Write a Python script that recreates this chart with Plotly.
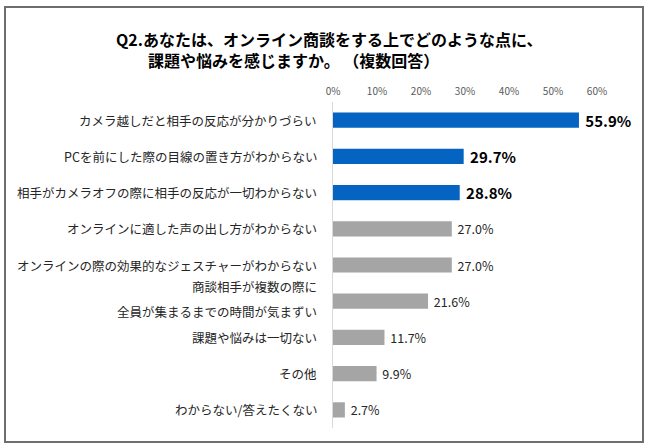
import plotly.graph_objects as go

categories = [
    "カメラ越しだと相手の反応が分かりづらい",
    "PCを前にした際の目線の置き方がわからない",
    "相手がカメラオフの際に相手の反応が一切わからない",
    "オンラインに適した声の出し方がわからない",
    "オンラインの際の効果的なジェスチャーがわからない",
    "商談相手が複数の際に<br>全員が集まるまでの時間が気まずい",
    "課題や悩みは一切ない",
    "その他",
    "わからない/答えたくない",
]
values = [55.9, 29.7, 28.8, 27.0, 27.0, 21.6, 11.7, 9.9, 2.7]
highlight = [True, True, True, False, False, False, False, False, False]
tick_vals = [0, 10, 20, 30, 40, 50, 60]
tick_text = ["0%", "10%", "20%", "30%", "40%", "50%", "60%"]
title_line1 = "Q2.あなたは、オンライン商談をする上でどのような点に、"
title_line2 = "課題や悩みを感じますか。 （複数回答）"

BLUE = "#0563C1"
GRAY = "#A5A5A5"
FONT = "Noto Sans CJK JP"

colors = [BLUE if h else GRAY for h in highlight]
texts = [(" <b>%.1f%%</b>" % v) if h else (" %.1f%%" % v) for v, h in zip(values, highlight)]
tsizes = [15 if h else 12.5 for h in highlight]
tcolors = ["#000000" if h else "#262626" for h in highlight]

fig = go.Figure(go.Bar(
    x=values, y=categories, orientation="h",
    marker=dict(color=colors, line=dict(width=0)),
    width=0.42,
    text=texts, textposition="outside", cliponaxis=False,
    constraintext="none",
    textfont=dict(size=tsizes, color=tcolors, family=FONT),
    hoverinfo="skip",
))

# plot area pixels
L, R, T, B = 333, 597, 102, 428
W, H = 650, 446
pw, ph = R - L, B - T

def px_x(x):
    return (x - L) / pw

def px_y(y):
    return (B - y) / ph

# category labels as annotations (multi-line label gets wider line spacing)
annotations = []
for cat in categories:
    lines = cat.split("<br>")
    shifts = [0] if len(lines) == 1 else [15, -10]
    for line, s in zip(lines, shifts):
        annotations.append(dict(
            text=line, xref="paper", yref="y", x=0, y=cat,
            xanchor="right", yanchor="middle", xshift=-14, yshift=s,
            showarrow=False, font=dict(size=12.5, color="#262626", family=FONT)))

annotations.append(dict(
    text="<b>" + title_line1 + "<br>\u3000\u3000" + title_line2 + "</b>",
    xref="paper", yref="paper", x=px_x(114), y=px_y(49),
    xanchor="left", yanchor="middle", align="left",
    showarrow=False, font=dict(size=16, color="#000000", family=FONT)))

fig.update_layout(
    width=W, height=H,
    margin=dict(l=L, r=W - R, t=T, b=H - B, pad=0, autoexpand=False),
    paper_bgcolor="white", plot_bgcolor="white",
    font=dict(family=FONT, color="#262626"),
    showlegend=False,
    xaxis=dict(range=[0, 60], side="top", tickvals=tick_vals, ticktext=tick_text,
               showgrid=False, zeroline=False, showline=False, ticks="",
               tickfont=dict(size=10, color="#595959", family=FONT),
               ticklabelstandoff=4, automargin=False, fixedrange=True),
    yaxis=dict(autorange="reversed", showgrid=False, zeroline=False,
               showline=True, linecolor="#D9D9D9", linewidth=1, ticks="",
               showticklabels=False, automargin=False, fixedrange=True),
    shapes=[dict(type="rect", xref="paper", yref="paper",
                 x0=px_x(5), x1=px_x(643), y0=px_y(442), y1=px_y(7),
                 line=dict(color="#6E6E6E", width=2), fillcolor="rgba(0,0,0,0)")],
    annotations=annotations,
)

fig.write_html(
    "out.html",
    config={"displayModeBar": False},
    post_script="document.body.style.margin='0';document.body.style.overflow='hidden';",
)
